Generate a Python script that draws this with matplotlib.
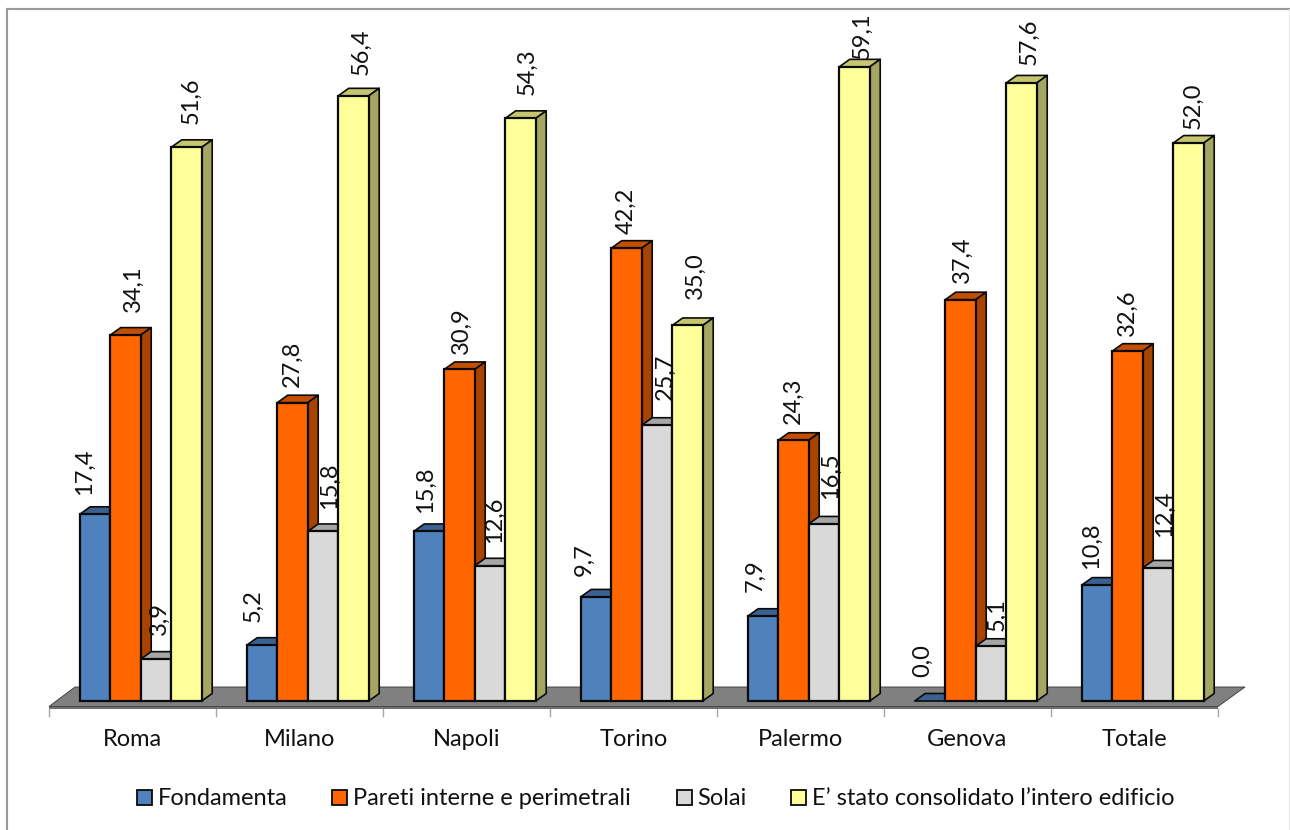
import matplotlib
matplotlib.use("Agg")
import matplotlib.pyplot as plt
from matplotlib.patches import Polygon, Rectangle
from matplotlib.lines import Line2D

plt.rcParams['font.family'] = ['Lato', 'DejaVu Sans']

cities = ["Roma", "Milano", "Napoli", "Torino", "Palermo", "Genova", "Totale"]
fondamenta = [17.4, 5.2, 15.8, 9.7, 7.9, 0.0, 10.8]
pareti = [34.1, 27.8, 30.9, 42.2, 24.3, 37.4, 32.6]
solai = [3.9, 15.8, 12.6, 25.7, 16.5, 5.1, 12.4]
consolidato = [51.6, 56.4, 54.3, 35.0, 59.1, 57.6, 52.0]
series_names = ["Fondamenta", "Pareti interne e perimetrali", "Solai",
                "E\u2019 stato consolidato l\u2019intero edificio"]
front_colors = ["#4F81BD", "#FF6600", "#D9D9D9", "#FFFF99"]
top_colors = ["#3B6190", "#C44E00", "#A6A6A6", "#C6C66F"]
side_colors = ["#3B6190", "#A84300", "#8C8C8C", "#A6A663"]

# Hand placement of the value labels, in pixels: sideways from the bar centre,
# and upward from the back edge of the bar top.
label_dx = [[-11, -9, -4, -12, -8, -7, -6],
            [8, 0, 2, 0, 0, 2, 0],
            [3, 6, 4, 8, 6, 6, 6],
            [5, 8, 7, 8, 8, 8, 5]]
label_gap = [[12, 16, 11, 13, 17, 17, 9],
             [16, 8, 8, 7, 9, 9, 8],
             [17, 15, 15, 18, 17, 8, 23],
             [16, 13, 16, 19, 0, 10, 7]]

W, H = 1290, 830
FONT = 17
fig = plt.figure(figsize=(W / 100, H / 100), dpi=100, facecolor="white")

# Axes span one category per tick interval; the value axis runs from the bar base upward.
X0, X1, Y0 = 49.0, 1218.0, 701.0
PX_PER_UNIT = 10.73
YMAX = 60.0
ax = fig.add_axes([X0 / W, 1 - Y0 / H, (X1 - X0) / W, YMAX * PX_PER_UNIT / H])
ax.set_xlim(0, len(cities))
ax.set_ylim(0, YMAX)
ax.axis("off")

px_x = len(cities) / (X1 - X0)
px_y = 1 / PX_PER_UNIT
dx, dy = 10.5 * px_x, 7.5 * px_y
bar_w = 30.5 * px_x
margin = 30.7 * px_x
edge = "#0A0A0A"

# Frame lines along the top and left of the chart area
frame = "#9A9A9A"
fig.add_artist(Line2D([7 / W, 7 / W], [0, 1 - 9 / H], transform=fig.transFigure, color=frame, lw=1.5))
fig.add_artist(Line2D([7 / W, 1], [1 - 9 / H, 1 - 9 / H], transform=fig.transFigure, color=frame, lw=1.5))
fig.add_artist(Line2D([1289 / W, 1289 / W], [0, 1 - 9 / H], transform=fig.transFigure,
                      color="#E4E4E4", lw=0.8))

# Floor plane with its thin front strip
f_low = -5.5 * px_y
f_strip = -7.5 * px_y
ax.add_patch(Polygon([(0, f_low), (26 * px_x, 14 * px_y), (len(cities) + 27 * px_x, 14 * px_y),
                      (len(cities), f_low)], fc="#808080", ec="#333333", lw=0.6,
                     clip_on=False, zorder=1))
ax.add_patch(Rectangle((0, f_strip), len(cities), f_low - f_strip, fc="#6E6E6E", ec="none",
                       clip_on=False, zorder=1))

# Category ticks below the floor
for i in range(len(cities) + 1):
    ax.add_line(Line2D([i, i], [f_strip, -14.5 * px_y], color="#A6A6A6", lw=1.0,
                       clip_on=False, zorder=1))
for i, name in enumerate(cities):
    ax.text(i + 0.5, -45 * px_y, name, ha="center", va="baseline", fontsize=FONT,
            color="#111111", clip_on=False)

# Extruded bars, painted left to right so nearer faces overlap correctly
z = 2
all_series = [fondamenta, pareti, solai, consolidato]
for g in range(len(cities)):
    for s, values in enumerate(all_series):
        v = values[g]
        x = g + margin + s * bar_w
        ax.add_patch(Polygon([(x, v), (x + dx, v + dy), (x + bar_w + dx, v + dy), (x + bar_w, v)],
                             fc=top_colors[s], ec=edge, lw=1.2, clip_on=False, zorder=z,
                             joinstyle="round"))
        if v > 0:
            ax.add_patch(Polygon([(x + bar_w, 0), (x + bar_w + dx, dy), (x + bar_w + dx, v + dy),
                                  (x + bar_w, v)], fc=side_colors[s], ec=edge, lw=1.2,
                                 clip_on=False, zorder=z, joinstyle="round"))
            ax.bar(x, v, width=bar_w, align="edge", color=front_colors[s], edgecolor=edge,
                   linewidth=1.6, zorder=z, clip_on=False)
        ax.text(x + bar_w / 2 + label_dx[s][g] * px_x, v + dy + label_gap[s][g] * px_y,
                f"{v:.1f}".replace(".", ","), rotation=90, ha="center", va="bottom",
                fontsize=FONT, color="#111111", clip_on=False, zorder=50)
        z += 1

# Legend row
legend_x = [137, 332, 677, 791]
legend_text_x = [158, 353, 697, 812]
for name, color, bx, tx in zip(series_names, front_colors, legend_x, legend_text_x):
    fig.add_artist(Rectangle((bx / W, 1 - 804.5 / H), 15 / W, 15 / H, transform=fig.transFigure,
                             fc=color, ec=edge, lw=1.3))
    fig.text(tx / W, 1 - 804.5 / H, name, ha="left", va="baseline", fontsize=FONT, color="#111111")

fig.savefig("out.png", dpi=100)
